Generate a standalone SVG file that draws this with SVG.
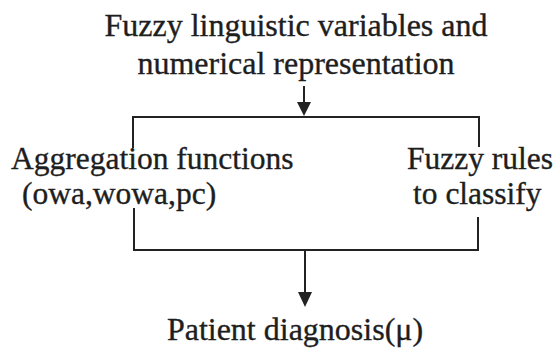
<svg xmlns="http://www.w3.org/2000/svg" width="556" height="354" viewBox="0 0 556 354">
<style>
.t{font-size:31.5px;fill:#1e1e1e;stroke:#1e1e1e;stroke-width:0.35}
.ln{stroke:#222;stroke-width:2;fill:none}
.ah{fill:#222}
</style>
<rect width="556" height="354" fill="#fff"/>
<g id="top" font-family="Liberation Serif, serif" class="t">
<text x="296" y="36" text-anchor="middle" font-size="32">Fuzzy linguistic variables and</text>
<text x="296" y="74" text-anchor="middle" font-size="32">numerical representation</text>
</g>
<g id="agg" font-family="Liberation Serif, serif" class="t">
<text x="11" y="169">Aggregation functions</text>
<text x="22" y="204">(owa,wowa,pc)</text>
</g>
<g id="rules" font-family="Liberation Serif, serif" class="t">
<text x="407" y="169">Fuzzy rules</text>
<text x="413" y="204">to classify</text>
</g>
<g id="diag" font-family="Liberation Serif, serif" class="t">
<text x="295" y="340" text-anchor="middle" font-size="32">Patient diagnosis(μ)</text>
</g>
<g id="connectors">
<path class="ln" d="M304 86V104"/>
<path class="ah" d="M297 102H311L304 116Z"/>
<path class="ln" d="M133 148V117H479V147"/>
<path class="ln" d="M134 208V250H478V217"/>
<path class="ln" d="M305 250V294"/>
<path class="ah" d="M298 292H312L305 307Z"/>
</g>
</svg>
